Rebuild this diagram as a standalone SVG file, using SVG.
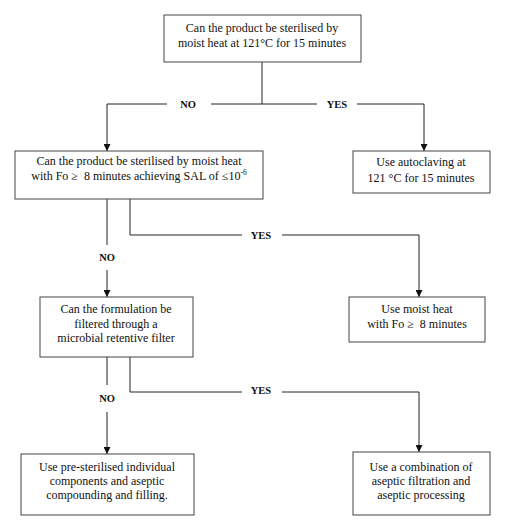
<svg xmlns="http://www.w3.org/2000/svg" width="514" height="524" viewBox="0 0 514 524">
<defs>
<marker id="ah" viewBox="0 0 10 10" refX="10" refY="5" markerWidth="7" markerHeight="7" markerUnits="userSpaceOnUse" orient="auto">
<path d="M0,0 L10,5 L0,10 z" fill="#111"/>
</marker>
<style>
.box{fill:#fff;stroke:#444;stroke-width:1}
.t{font-family:"Liberation Serif","Times New Roman",serif;font-size:12px;fill:#111;text-anchor:middle}
.lb{font-family:"Liberation Serif","Times New Roman",serif;font-size:10.5px;font-weight:bold;fill:#111;text-anchor:middle}
.c{fill:none;stroke:#222;stroke-width:1}
</style>
</defs>
<rect width="514" height="524" fill="#fff"/>
<g id="connectors">
<path class="c" d="M262,62 V104"/>
<path class="c" d="M167,104 H107 V151" marker-end="url(#ah)"/>
<path class="c" d="M211,104 H317"/>
<path class="c" d="M357,104 H424 V151" marker-end="url(#ah)"/>
<path class="c" d="M107,199 V245"/>
<path class="c" d="M107,270 V297" marker-end="url(#ah)"/>
<path class="c" d="M130,199 V235 H242"/>
<path class="c" d="M282,235 H419 V297" marker-end="url(#ah)"/>
<path class="c" d="M107,357 V385"/>
<path class="c" d="M107,412 V454" marker-end="url(#ah)"/>
<path class="c" d="M130,357 V392 H242"/>
<path class="c" d="M282,392 H419 V452" marker-end="url(#ah)"/>
<text class="lb" x="188" y="108">NO</text>
<text class="lb" x="337" y="108">YES</text>
<text class="lb" x="261" y="239">YES</text>
<text class="lb" x="107" y="261">NO</text>
<text class="lb" x="261" y="394">YES</text>
<text class="lb" x="107" y="402">NO</text>
</g>
<g id="n1">
<rect class="box" x="164" y="15" width="197" height="47"/>
<text class="t" x="262" y="32">Can the product be sterilised by</text>
<text class="t" x="262" y="47">moist heat at 121°C for 15 minutes</text>
</g>
<g id="n2">
<rect class="box" x="15" y="151" width="248" height="48"/>
<text class="t" x="139" y="165">Can the product be sterilised by moist heat</text>
<text class="t" x="139" y="180">with Fo ≥&#160; 8 minutes achieving SAL of ≤10<tspan font-size="7.5px" dy="-5">-6</tspan></text>
</g>
<g id="n3">
<rect class="box" x="353" y="151" width="137" height="42"/>
<text class="t" x="421" y="166">Use autoclaving at</text>
<text class="t" x="421" y="182">121 °C for 15 minutes</text>
</g>
<g id="n4">
<rect class="box" x="40" y="297" width="153" height="60"/>
<text class="t" x="116" y="313">Can the formulation be</text>
<text class="t" x="116" y="328">filtered through a</text>
<text class="t" x="116" y="342">microbial retentive filter</text>
</g>
<g id="n5">
<rect class="box" x="349" y="297" width="136" height="45"/>
<text class="t" x="417" y="313">Use moist heat</text>
<text class="t" x="417" y="328">with Fo ≥&#160; 8 minutes</text>
</g>
<g id="n6">
<rect class="box" x="21" y="454" width="173" height="61"/>
<text class="t" x="107" y="471">Use pre-sterilised individual</text>
<text class="t" x="107" y="485">components and aseptic</text>
<text class="t" x="107" y="499">compounding and filling.</text>
</g>
<g id="n7">
<rect class="box" x="353" y="452" width="137" height="63"/>
<text class="t" x="421" y="471">Use a combination of</text>
<text class="t" x="421" y="485">aseptic filtration and</text>
<text class="t" x="421" y="499">aseptic processing</text>
</g>
</svg>
